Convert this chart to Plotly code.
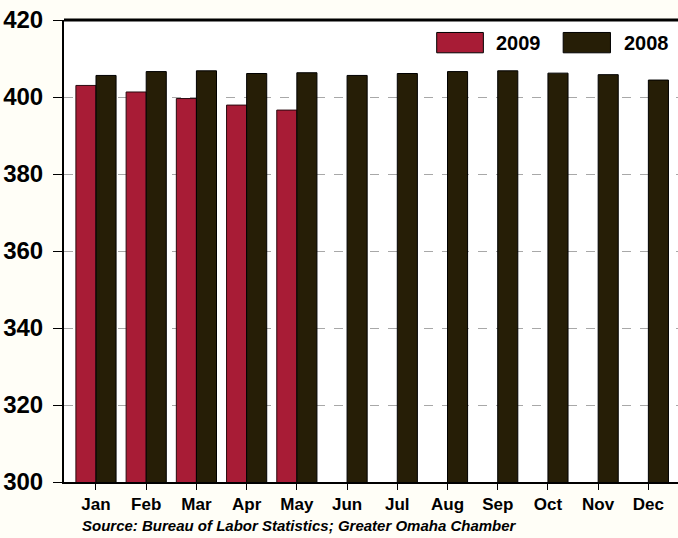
import plotly.graph_objects as go

months = ['Jan', 'Feb', 'Mar', 'Apr', 'May', 'Jun', 'Jul', 'Aug', 'Sep', 'Oct', 'Nov', 'Dec']
vals_2009 = [403.0, 401.3, 399.6, 397.9, 396.6]
vals_2008 = [405.6, 406.6, 406.8, 406.1, 406.3, 405.6, 406.1, 406.6, 406.8, 406.2, 405.8, 404.4]

red = '#A81C36'
dark = '#261E06'
font_fam = 'Arial, Liberation Sans, sans-serif'

fig = go.Figure()
fig.add_trace(go.Bar(x=months[:len(vals_2009)], y=vals_2009, name='2009',
                     marker=dict(color=red, line=dict(color='#2a0a10', width=1))))
fig.add_trace(go.Bar(x=months, y=vals_2008, name='2008',
                     marker=dict(color=dark, line=dict(color='#000000', width=1))))

fig.update_layout(
    width=678, height=538,
    margin=dict(l=64, r=0, t=20, b=56),
    paper_bgcolor='#FFFEF7',
    plot_bgcolor='#FFFFFF',
    barmode='group', bargap=0.2, bargroupgap=0,
    showlegend=False,
    font=dict(family=font_fam, color='#000000'),
)
fig.update_xaxes(
    categoryorder='array', categoryarray=months,
    range=[-0.637, 11.59],
    showline=True, linecolor='#000000', linewidth=2,
    ticks='outside', ticklen=6, tickcolor='#000000', tickwidth=1,
    tickfont=dict(size=17, weight='bold'),
    showgrid=False,
)
fig.update_yaxes(
    range=[300, 420], dtick=20,
    showline=True, linecolor='#000000', linewidth=2,
    ticks='outside', ticklen=9, tickcolor='#000000', tickwidth=1,
    tickfont=dict(size=24, weight='bold'), ticklabelstandoff=5,
    showgrid=True, gridcolor='#A8A8A8', griddash='dash', gridwidth=1,
    zeroline=False,
)

# top frame line
fig.add_shape(type='line', xref='paper', yref='paper', x0=0, x1=1, y0=1, y1=1,
              line=dict(color='#000000', width=3))

# legend drawn by hand to get the wide swatches
for x0, x1, col, lab, tx in [(0.607, 0.683, red, '2009', 0.700),
                             (0.813, 0.890, dark, '2008', 0.909)]:
    fig.add_shape(type='rect', xref='paper', yref='paper', x0=x0, x1=x1, y0=0.929, y1=0.973,
                  fillcolor=col, line=dict(color='#000000', width=1))
    fig.add_annotation(x=tx, y=0.951, xref='paper', yref='paper', text='<b>%s</b>' % lab,
                       showarrow=False, xanchor='left', yanchor='middle',
                       font=dict(size=20, family=font_fam))

fig.add_annotation(
    x=(80 - 64) / 614, y=-0.095, xref='paper', yref='paper',
    text='<b><i>Source: Bureau of Labor Statistics; Greater Omaha Chamber</i></b>',
    showarrow=False, xanchor='left', yanchor='middle',
    font=dict(size=15, family=font_fam),
)

# drop the default 8px body margin so the figure fills the window
fig.write_html("out.html", config={'displayModeBar': False},
               post_script="document.body.style.margin='0';")
